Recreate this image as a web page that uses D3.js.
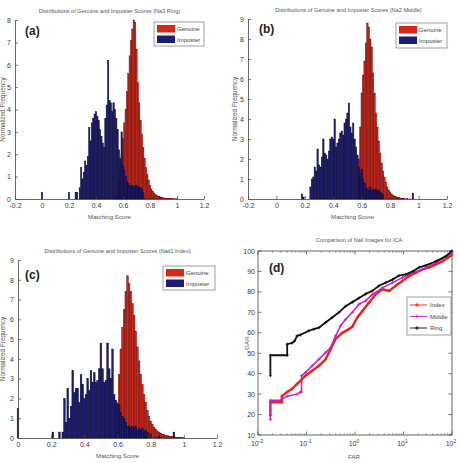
<!DOCTYPE html>
<html><head><meta charset="utf-8">
<script src="https://cdn.jsdelivr.net/npm/d3@7"></script>
<style>
body{margin:0;background:#fff}
svg{display:block}
text{font-family:"Liberation Sans",Arial,sans-serif}
</style>
</head><body>
<svg id="chart" width="459" height="463"></svg>
<script>
// ---------------- DATA ----------------
const binWidth = 0.01;
const seriesNames = ["Genuine", "Imposter"];
const rocNames = ["Index", "Middle", "Ring"];

// (a) Nail3 Ring  [score, normalized frequency]
const ringGenuine = [[0.55,0.15],[0.56,0.4],[0.57,0.8],[0.58,1.3],[0.59,2.0],[0.60,2.7],[0.61,3.4],[0.62,4.0],[0.63,4.8],[0.64,5.6],[0.65,6.4],[0.66,7.1],[0.67,7.6],[0.68,8.0],[0.69,7.9],[0.70,6.7],[0.71,5.2],[0.72,4.3],[0.73,3.5],[0.74,2.9],[0.75,2.3],[0.76,1.8],[0.77,1.4],[0.78,1.1],[0.79,0.85],[0.80,0.6],[0.81,0.45],[0.82,0.35],[0.83,0.27],[0.84,0.2],[0.85,0.15],[0.86,0.12],[0.87,0.1],[0.88,0.08],[0.89,0.06],[0.90,0.05],[0.91,0.04],[0.92,0.03],[0.93,0.03],[0.94,0.02],[0.95,0.02],[0.96,0.02],[0.97,0.01],[0.98,0.01],[0.99,0.01],[1.00,0.01]];
const ringImposter = [[0.00,0.3],[0.20,0.3],[0.25,0.3],[0.26,0.3],[0.28,0.5],[0.29,1.4],[0.30,0.9],[0.31,1.2],[0.32,1.7],[0.33,1.5],[0.34,1.9],[0.35,3.2],[0.36,2.6],[0.37,3.4],[0.38,3.6],[0.39,3.8],[0.40,3.9],[0.41,3.7],[0.42,3.5],[0.43,3.1],[0.44,2.8],[0.45,2.5],[0.46,2.3],[0.47,3.6],[0.48,4.2],[0.49,6.2],[0.50,4.4],[0.51,4.3],[0.52,3.9],[0.53,4.3],[0.54,4.0],[0.55,3.6],[0.56,3.1],[0.57,2.2],[0.58,1.8],[0.59,3.0],[0.60,1.5],[0.61,1.3],[0.62,1.0],[0.63,0.8],[0.64,0.7],[0.65,0.6],[0.66,0.55],[0.67,0.6],[0.68,0.5],[0.69,0.55],[0.70,0.6],[0.71,0.5],[0.72,0.55],[0.73,0.5],[0.74,0.45],[0.75,0.3]];

// (b) Nail2 Middle
const middleGenuine = [[0.58,2.0],[0.59,3.6],[0.60,5.3],[0.61,6.2],[0.62,6.9],[0.63,7.8],[0.64,8.8],[0.65,8.6],[0.66,8.0],[0.67,7.6],[0.68,6.3],[0.69,5.3],[0.70,4.3],[0.71,3.6],[0.72,2.9],[0.73,2.3],[0.74,1.8],[0.75,1.4],[0.76,1.1],[0.77,0.85],[0.78,0.6],[0.79,0.45],[0.80,0.35],[0.81,0.25],[0.82,0.2],[0.83,0.15],[0.84,0.12],[0.85,0.09],[0.86,0.07],[0.87,0.05],[0.88,0.04],[0.89,0.03],[0.90,0.02],[0.92,0.02],[0.94,0.01]];
const middleImposter = [[0.18,0.25],[0.19,0.1],[0.24,0.6],[0.25,1.0],[0.26,1.1],[0.27,1.6],[0.28,1.4],[0.29,2.5],[0.30,1.7],[0.31,1.6],[0.32,2.1],[0.33,3.0],[0.34,2.3],[0.35,2.2],[0.36,2.0],[0.37,2.4],[0.38,3.0],[0.39,3.1],[0.40,3.0],[0.41,4.0],[0.42,2.6],[0.43,2.8],[0.44,3.0],[0.45,3.3],[0.46,3.4],[0.47,3.2],[0.48,3.8],[0.49,4.0],[0.50,4.3],[0.51,4.8],[0.52,3.6],[0.53,3.3],[0.54,3.8],[0.55,3.0],[0.56,2.6],[0.57,2.2],[0.58,1.6],[0.59,1.3],[0.60,1.5],[0.61,1.0],[0.62,0.8],[0.63,0.6],[0.64,0.5],[0.65,0.45],[0.66,0.6],[0.67,0.4],[0.68,0.5],[0.69,0.45],[0.70,0.5],[0.71,0.4],[0.72,0.45],[0.73,0.35],[0.74,0.3],[0.75,0.2],[0.96,0.3]];

// (c) Nail1 Index
const indexGenuine = [[0.60,1.8],[0.61,3.2],[0.62,4.5],[0.63,5.6],[0.64,6.5],[0.65,7.4],[0.66,8.2],[0.67,7.8],[0.68,7.4],[0.69,6.8],[0.70,6.2],[0.71,5.4],[0.72,4.6],[0.73,3.9],[0.74,3.2],[0.75,2.7],[0.76,2.2],[0.77,1.8],[0.78,1.4],[0.79,1.1],[0.80,0.85],[0.81,0.7],[0.82,0.55],[0.83,0.45],[0.84,0.36],[0.85,0.3],[0.86,0.25],[0.87,0.2],[0.88,0.17],[0.89,0.14],[0.90,0.12],[0.91,0.1],[0.92,0.09],[0.93,0.07],[0.94,0.06],[0.95,0.05],[0.96,0.04],[0.97,0.03],[0.98,0.03],[0.99,0.02],[1.00,0.01]];
const indexImposter = [[0.00,1.5],[0.21,0.3],[0.25,0.3],[0.27,0.3],[0.28,2.0],[0.29,0.8],[0.30,2.5],[0.31,1.0],[0.32,1.6],[0.33,3.4],[0.34,2.3],[0.35,2.5],[0.36,2.5],[0.37,1.8],[0.38,3.2],[0.39,2.7],[0.40,2.0],[0.41,2.2],[0.42,3.0],[0.43,2.4],[0.44,3.4],[0.45,2.8],[0.46,3.3],[0.47,2.8],[0.48,2.9],[0.49,3.5],[0.50,4.8],[0.51,3.5],[0.52,2.8],[0.53,2.9],[0.54,4.8],[0.55,3.5],[0.56,3.0],[0.57,4.5],[0.58,2.2],[0.59,1.9],[0.60,1.7],[0.61,1.7],[0.62,1.3],[0.63,1.1],[0.64,1.0],[0.65,0.8],[0.66,0.6],[0.67,0.6],[0.68,0.5],[0.69,0.6],[0.70,0.5],[0.71,0.6],[0.72,0.4],[0.73,0.5],[0.74,0.4],[0.75,0.5],[0.76,0.3],[0.77,0.4],[0.78,0.3],[0.80,0.2],[0.85,0.1],[0.94,0.3]];

// (d) ROC  [FAR, GAR]
const rocIndex = [[0.018,19.5],[0.018,26],[0.031,26],[0.031,29],[0.040,31],[0.050,32.5],[0.064,35],[0.075,36.5],[0.095,39],[0.131,41.4],[0.180,43.8],[0.247,47],[0.314,52],[0.398,57],[0.547,60],[0.751,61.8],[0.881,63],[1.12,67.5],[1.42,70.7],[1.95,74.8],[2.68,78.8],[3.68,81.3],[5.05,80.5],[6.93,83],[9.53,85.4],[13.1,87.8],[18.0,89.4],[24.7,91],[34.0,92],[46.7,93.5],[64.1,95],[100,98]];
const rocMiddle = [[0.018,17.5],[0.018,27],[0.031,27],[0.031,27.5],[0.040,29],[0.064,30],[0.075,31],[0.079,31],[0.079,39],[0.095,40.6],[0.131,43.8],[0.180,47],[0.247,50.3],[0.314,52.8],[0.398,58.5],[0.505,63.4],[0.641,66.6],[0.881,70],[1.21,74],[1.66,75.6],[2.28,78.8],[3.68,82],[5.92,84.5],[9.53,87],[15.4,89.4],[24.7,91],[46.7,94.3],[100,99]];
const rocRing = [[0.018,39],[0.018,49],[0.040,49],[0.040,54.4],[0.050,55],[0.057,56],[0.064,58.5],[0.075,59],[0.112,61],[0.142,61.8],[0.180,62.5],[0.247,65],[0.340,67.5],[0.467,70],[0.641,73],[0.881,75],[1.21,77],[1.66,79],[2.28,80.5],[3.14,83],[4.31,84.5],[5.92,86],[8.12,88],[11.2,88.6],[15.4,90],[21.1,92],[29.0,93],[46.7,95],[75.2,97.5],[100,100]];

const histXTicksA = [-0.2,0,0.2,0.4,0.6,0.8,1,1.2];
const histXTicksC = [0,0.2,0.4,0.6,0.8,1,1.2];
const rocYTicks = [10,20,30,40,50,60,70,80,90,100];
const rocXTicks = [0.01,0.1,1,10,100];

// ---------------- DRAW ----------------
const svg = d3.select("#chart");
const RED = "#d4261b", RED_EDGE = "#5e0c06";
const BLUE = "#1c1c74", BLUE_EDGE = "#0a0a30";
const TXT = "#3a3a3a";
const fmt = d => String(+(+d).toFixed(1));

function styleAxis(g) {
  g.selectAll("path.domain").attr("stroke", "#444").attr("stroke-width", 0.8);
  g.selectAll(".tick line").attr("stroke", "#444").attr("stroke-width", 0.7);
  g.selectAll(".tick text").attr("fill", TXT).style("font-size", "7px")
    .style("font-family", '"Liberation Sans",Arial,sans-serif');
}

function histPanel(cfg) {
  const x = d3.scaleLinear().domain(cfg.xDomain).range([cfg.left, cfg.right]);
  const y = d3.scaleLinear().domain([0, cfg.yMax]).range([cfg.bottom, cfg.top]);
  const g = svg.append("g");
  const drawBars = (data, fill, edge) => {
    g.append("g").selectAll("rect").data(data).join("rect")
      .attr("x", d => x(d[0] - binWidth / 2))
      .attr("width", d => x(d[0] + binWidth / 2) - x(d[0] - binWidth / 2))
      .attr("y", d => y(d[1]))
      .attr("height", d => y(0) - y(d[1]))
      .attr("fill", fill).attr("stroke", edge).attr("stroke-width", 0.45);
  };
  drawBars(cfg.genuine, RED, RED_EDGE);
  drawBars(cfg.imposter, BLUE, BLUE_EDGE);

  const xa = g.append("g").attr("transform", `translate(0,${cfg.bottom})`)
    .call(d3.axisBottom(x).tickValues(cfg.xTicks).tickFormat(fmt).tickSizeInner(-3).tickSizeOuter(0).tickPadding(4));
  styleAxis(xa);
  const ya = g.append("g").attr("transform", `translate(${cfg.left},0)`)
    .call(d3.axisLeft(y).ticks(cfg.yMax).tickFormat(d3.format("d")).tickSizeInner(-3).tickSizeOuter(0).tickPadding(4));
  styleAxis(ya);

  g.append("text").attr("x", (cfg.left + cfg.right) / 2 + cfg.titleDx).attr("y", cfg.titleY)
    .attr("text-anchor", "middle").attr("fill", "#555").style("font-size", "5.6px").text(cfg.title);
  g.append("text").attr("x", (cfg.left + cfg.right) / 2 + cfg.xlabDx).attr("y", cfg.bottom + 20)
    .attr("text-anchor", "middle").attr("fill", "#555").style("font-size", "6.2px").text("Matching Score");
  g.append("text").attr("transform", `translate(${cfg.ylabX},${(cfg.top + cfg.bottom) / 2}) rotate(-90)`)
    .attr("text-anchor", "middle").attr("fill", "#555").style("font-size", "6.4px").text("Normalized Frequency");
  g.append("text").attr("x", cfg.tagX).attr("y", cfg.tagY).attr("fill", "#222")
    .style("font-size", "12px").style("font-weight", "bold").text(cfg.tag);

  // legend
  const L = cfg.legend;
  const lg = g.append("g").attr("transform", `translate(${L.x},${L.y})`);
  lg.append("rect").attr("width", L.w).attr("height", L.h).attr("fill", "#fff").attr("stroke", "#777").attr("stroke-width", 0.7);
  [[RED, seriesNames[0]], [BLUE, seriesNames[1]]].forEach((e, i) => {
    lg.append("rect").attr("x", 3).attr("y", 3 + i * 10.5).attr("width", 18).attr("height", 7.5).attr("fill", e[0]);
    lg.append("text").attr("x", 23).attr("y", 9.3 + i * 10.5).attr("fill", "#444").style("font-size", "6px").text(e[1]);
  });
}

histPanel({xDomain:[-0.2,1.2], yMax:8, left:15, right:204, top:20, bottom:199, genuine:ringGenuine, imposter:ringImposter,
  xTicks:histXTicksA, title:"Distributions of Genuine and Imposter Scores (Na3 Ring)", titleDx:0, titleY:13, xlabDx:0, ylabX:5,
  tag:"(a)", tagX:25, tagY:35, legend:{x:154, y:22, w:50, h:24}});
histPanel({xDomain:[-0.2,1.2], yMax:9, left:248, right:447, top:19, bottom:199, genuine:middleGenuine, imposter:middleImposter,
  xTicks:histXTicksA, title:"Distributions of Genuine and Imposter Scores (Na2 Middle)", titleDx:1, titleY:12, xlabDx:5, ylabX:237,
  tag:"(b)", tagX:259, tagY:33, legend:{x:396, y:23, w:51, h:25}});
histPanel({xDomain:[0,1.2], yMax:9, left:18, right:217, top:260, bottom:438, genuine:indexGenuine, imposter:indexImposter,
  xTicks:histXTicksC, title:"Distributions of Genuine and Imposter Scores (Nail1 Index)", titleDx:0, titleY:253, xlabDx:0, ylabX:5,
  tag:"(c)", tagX:25, tagY:279, legend:{x:163, y:266, w:52, h:24}});

// (d) ROC panel
(function () {
  const left = 258, right = 452, top = 251, bottom = 435;
  const x = d3.scaleLog().domain([0.01, 100]).range([left, right]);
  const y = d3.scaleLinear().domain([10, 100]).range([bottom, top]);
  const g = svg.append("g");
  g.append("rect").attr("x", left).attr("y", top).attr("width", right - left).attr("height", bottom - top)
    .attr("fill", "none").attr("stroke", "#444").attr("stroke-width", 0.8);
  const minor = [];
  for (let e = -2; e < 2; e++) for (let m = 2; m <= 9; m++) minor.push(m * Math.pow(10, e));
  [bottom, top].forEach((yy, k) => {
    const dir = k === 0 ? -1 : 1;
    minor.forEach(v => g.append("line").attr("x1", x(v)).attr("x2", x(v)).attr("y1", yy).attr("y2", yy + dir * 1.8)
      .attr("stroke", "#444").attr("stroke-width", 0.5));
    rocXTicks.forEach(v => g.append("line").attr("x1", x(v)).attr("x2", x(v)).attr("y1", yy).attr("y2", yy + dir * 3.5)
      .attr("stroke", "#444").attr("stroke-width", 0.7));
  });
  rocYTicks.forEach(v => {
    g.append("line").attr("x1", left).attr("x2", left + 3.5).attr("y1", y(v)).attr("y2", y(v)).attr("stroke", "#444").attr("stroke-width", 0.7);
    g.append("line").attr("x1", right).attr("x2", right - 3.5).attr("y1", y(v)).attr("y2", y(v)).attr("stroke", "#444").attr("stroke-width", 0.7);
    g.append("text").attr("x", left - 3).attr("y", y(v) + 2.5).attr("text-anchor", "end").attr("fill", TXT)
      .style("font-size", "7px").text(v);
  });
  rocXTicks.forEach(v => {
    const t = g.append("text").attr("x", x(v) - 1).attr("y", bottom + 11).attr("text-anchor", "middle").attr("fill", TXT).style("font-size", "7px");
    t.append("tspan").text("10");
    t.append("tspan").attr("dy", -3).style("font-size", "5px").text(Math.round(Math.log10(v)));
  });
  const line = d3.line().x(d => x(d[0])).y(d => y(d[1]));
  const curves = [[rocIndex, "#e8221c", 2.4], [rocMiddle, "#c81ec8", 1.5], [rocRing, "#111", 1.8]];
  curves.forEach(c => g.append("path").datum(c[0]).attr("d", line).attr("fill", "none")
    .attr("stroke", c[1]).attr("stroke-width", c[2]).attr("stroke-linejoin", "round"));
  // markers along the curves
  curves.forEach(c => g.append("g").selectAll("path").data(c[0]).join("path")
    .attr("d", d => `M${x(d[0]) - 1.6},${y(d[1])}h3.2M${x(d[0])},${y(d[1]) - 1.6}v3.2`)
    .attr("stroke", c[1]).attr("stroke-width", 0.8));

  g.append("text").attr("x", 359).attr("y", 242).attr("text-anchor", "middle").attr("fill", "#555").style("font-size", "5.6px")
    .text("Comparison of Nail Images for ICA");
  g.append("text").attr("x", 354).attr("y", 459).attr("text-anchor", "middle").attr("fill", "#555").style("font-size", "6.2px").text("FAR");
  g.append("text").attr("transform", `translate(249,${(top + bottom) / 2}) rotate(-90)`).attr("text-anchor", "middle")
    .attr("fill", "#555").style("font-size", "6.2px").text("GAR");
  g.append("text").attr("x", 269).attr("y", 272).attr("fill", "#222").style("font-size", "12px").style("font-weight", "bold").text("(d)");

  const lg = g.append("g").attr("transform", "translate(407,297)");
  lg.append("rect").attr("width", 44).attr("height", 38).attr("fill", "#fff").attr("stroke", "#777").attr("stroke-width", 0.7);
  curves.forEach((c, i) => {
    const yy = 8 + i * 11.5;
    lg.append("line").attr("x1", 3).attr("x2", 20).attr("y1", yy).attr("y2", yy).attr("stroke", c[1]).attr("stroke-width", 0.9);
    lg.append("path").attr("d", `M10,${yy - 2}v4M8,${yy}h4`).attr("stroke", c[1]).attr("stroke-width", 0.9);
    lg.append("text").attr("x", 23).attr("y", yy + 2.2).attr("fill", "#444").style("font-size", "6px").text(rocNames[i]);
  });
})();
</script>
</body></html>
